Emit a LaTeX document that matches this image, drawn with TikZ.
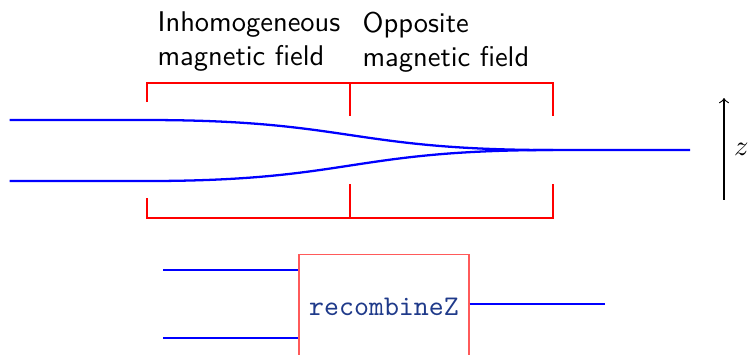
\documentclass[tikz,border=0pt]{standalone}
\usepackage{xcolor}
\definecolor{beamblue}{HTML}{0000FF}
\definecolor{fieldred}{HTML}{FF0000}
\definecolor{gatered}{HTML}{FF5A5A}
\definecolor{gatetext}{HTML}{1F3A8A}
\usepackage{tikz}
\usetikzlibrary{arrows.meta,positioning,calc}

\begin{document}
\begin{tikzpicture}[>=to,
    wire/.style={draw=beamblue,line width=0.8pt},
    bracket/.style={draw=fieldred,line width=0.4pt},
    fieldlabel/.style={font=\sffamily,align=left,inner sep=0pt,anchor=north west}]
    \useasboundingbox (0,0) rectangle (9.235,4.365);
    % beam splitter, top part
    \coordinate (upin) at (0.12,2.885);
    \coordinate (upstart) at (1.813,2.885);
    \coordinate (lowin) at (0.12,2.133);
    \coordinate (lowstart) at (1.813,2.133);
    \coordinate (merge) at (6.819,2.515);
    \coordinate (beamout) at (8.508,2.515);
    \draw[wire] (upin) -- (upstart) .. controls (4.316,2.885) and (4.316,2.515) .. (merge) -- (beamout);
    \draw[wire] (lowin) -- (lowstart) .. controls (4.316,2.133) and (4.316,2.515) .. (merge);
    % field regions
    \draw[bracket] (1.813,3.107) -- (1.813,3.341) -- (6.819,3.341) -- (6.819,2.935);
    \draw[bracket] (4.316,3.341) -- (4.316,2.935);
    \draw[bracket] (1.813,1.923) -- (1.813,1.677) -- (6.819,1.677) -- (6.819,2.096);
    \draw[bracket] (4.316,1.677) -- (4.316,2.096);
    \node[fieldlabel] (inhom) at (1.936,4.225) {Inhomogeneous\\magnetic field};
    \node[fieldlabel] (oppos) at (4.463,4.225) {Opposite\\magnetic field};
    % z axis
    \coordinate (zlow) at (8.927,1.899);
    \coordinate (zhigh) at (8.927,3.156);
    \draw[->,line width=0.4pt] (zlow) -- (zhigh) node[midway,right] (zlab) {$z$};
    % gate below, cut by the page edge
    \node[draw=gatered,line width=0.4pt,minimum width=2.096cm,minimum height=1.3cm,
          anchor=north,font=\ttfamily,text=gatetext] (recomb) at (4.735,1.238) {recombineZ};
    \coordinate (inA) at (2.01,1.036);
    \coordinate (inB) at (2.01,0.197);
    \coordinate (outA) at (7.46,0.617);
    \draw[wire] (inA) -- (recomb.west |- inA);
    \draw[wire] (inB) -- (recomb.west |- inB);
    \draw[wire] (recomb.east |- outA) -- (outA);
  \end{tikzpicture}
\end{document}
